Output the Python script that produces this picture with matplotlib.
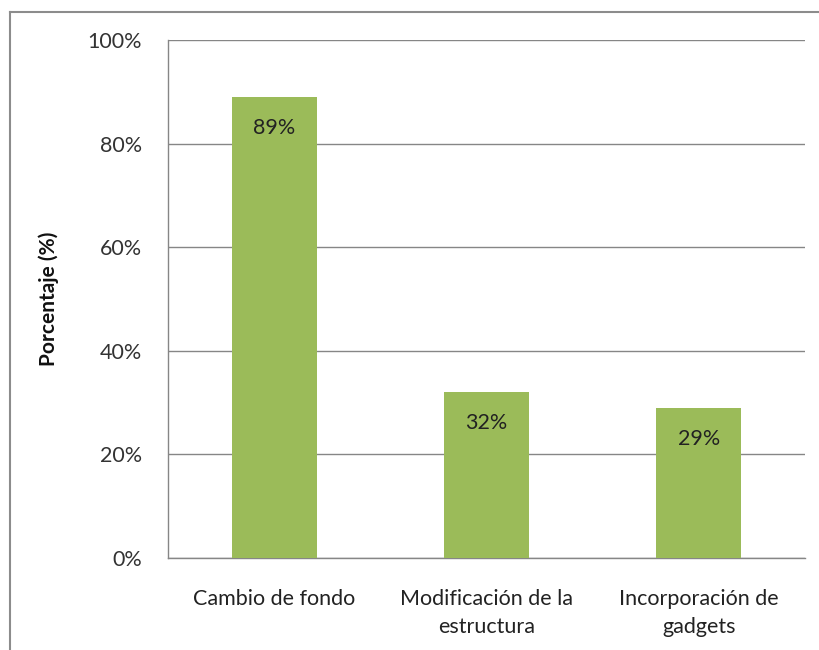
import matplotlib.pyplot as plt
from matplotlib.lines import Line2D
from matplotlib.ticker import PercentFormatter

plt.rcParams['font.family'] = ['Lato', 'DejaVu Sans']

categorias = ['Cambio de fondo', 'Modificación de la\nestructura', 'Incorporación de\ngadgets']
porcentajes = [89, 32, 29]
etiquetas = ['89%', '32%', '29%']

fig = plt.figure(figsize=(8.2, 6.5), dpi=100)
ax = fig.add_axes([0.2049, 0.1415, 0.7768, 0.797])

x = range(len(categorias))
barras = ax.bar(x, porcentajes, width=0.4, color='#9BBB59', zorder=3)

for b, txt in zip(barras, etiquetas):
    ax.annotate(txt, (b.get_x() + b.get_width() / 2, b.get_height()),
                xytext=(0, -31), textcoords='offset pixels',
                ha='center', va='center', fontsize=15.5, color='#222222', zorder=4)

ax.set_xlim(-0.5, 2.5)
ax.set_ylim(0, 100)
ax.set_yticks([0, 20, 40, 60, 80, 100])
ax.yaxis.set_major_formatter(PercentFormatter(decimals=0))
ax.set_xticks(list(x))
ax.set_xticklabels(categorias, fontsize=15.5, color='#222222', linespacing=1.55)
ax.tick_params(axis='y', labelsize=15.5, labelcolor='#333333', length=0, pad=19)
ax.tick_params(axis='x', length=0, pad=22)

ax.grid(axis='y', color='#868686', linewidth=1, zorder=0)
for s in ['top', 'right']:
    ax.spines[s].set_visible(False)
for s in ['left', 'bottom']:
    ax.spines[s].set_color('#868686')
    ax.spines[s].set_linewidth(1)

ax.set_ylabel('Porcentaje (%)', fontsize=15, fontweight='bold', color='#111111', labelpad=20)

# marco del gráfico
fig.add_artist(Line2D([10 / 820, 10 / 820], [0, 1 - 12 / 650], color='#8c8c8c', lw=1.5))
fig.add_artist(Line2D([10 / 820, 1], [1 - 12 / 650, 1 - 12 / 650], color='#8c8c8c', lw=1.5))

fig.savefig('out.png', dpi=100)
